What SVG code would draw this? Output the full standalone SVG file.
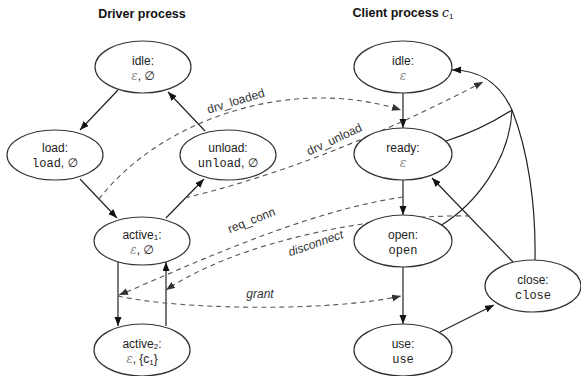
<svg xmlns="http://www.w3.org/2000/svg" width="581" height="376" viewBox="0 0 581 376">
  <style>
    .node ellipse { fill: #fff; stroke: #333; stroke-width: 1.2; }
    text { font-family: "Liberation Sans", "DejaVu Sans", sans-serif; font-size: 12px; fill: #222; }
    .title { font-weight: bold; font-size: 12.5px; fill: #111; }
    .mono { font-family: "Liberation Mono", "DejaVu Sans Mono", monospace; font-size: 12px; }
    .eps { font-family: "DejaVu Serif", serif; font-style: italic; fill: #888; }
    .lbl { font-size: 12px; fill: #333; }
    .it { font-style: italic; }
    .edge { fill: none; stroke: #222; stroke-width: 1.2; marker-end: url(#head); }
    .line { fill: none; stroke: #222; stroke-width: 1.2; }
    .sig { fill: none; stroke: #555; stroke-width: 1.1; stroke-dasharray: 5 4; marker-end: url(#headGray); }
  </style>
  <defs>
    <marker id="head" markerUnits="userSpaceOnUse" markerWidth="10" markerHeight="8" refX="9" refY="3.5" orient="auto">
      <path d="M0,0 L9,3.5 L0,7 z" fill="#111"/>
    </marker>
    <marker id="headGray" markerUnits="userSpaceOnUse" markerWidth="10" markerHeight="8" refX="9" refY="3.5" orient="auto">
      <path d="M0,0 L9,3.5 L0,7 z" fill="#333"/>
    </marker>
  </defs>

  <rect width="581" height="376" fill="#fff"/>

  <!-- column headings -->
  <text class="title" x="142" y="18" text-anchor="middle">Driver process</text>
  <text class="title" x="403" y="17" text-anchor="middle">Client process <tspan font-family="DejaVu Serif, serif" font-style="italic" font-weight="normal">c</tspan><tspan font-weight="normal" font-size="8" dy="2">1</tspan></text>

  <!-- transitions and signals -->
  <g id="connectors">
    <!-- driver transitions -->
    <path class="edge" d="M118,90 L80,130"/>
    <path class="edge" d="M205,131 L168,92"/>
    <path class="edge" d="M80,179 L117,218"/>
    <path class="edge" d="M166,218 L204,179"/>
    <path class="edge" d="M118,262 L118,326"/>
    <path class="edge" d="M166,326 L166,262"/>

    <!-- client transitions -->
    <path class="edge" d="M403,93 L403,128"/>
    <path class="edge" d="M403,180 L403,215"/>
    <path class="edge" d="M403,267 L403,324"/>
    <path class="edge" d="M440,332 L494,305"/>
    <path class="edge" d="M513,262 L432,178"/>
    <!-- merged return to idle -->
    <path class="line" d="M446,141 Q481,130 512,110"/>
    <path class="line" d="M440,226 C475,205 510,160 512,110"/>
    <path class="line" d="M535,260 C536,205 528,150 512,110"/>
    <path class="edge" d="M512,110 Q494,70 452,70"/>

    <!-- signals between processes -->
    <path class="sig" d="M99,199 C160,120 290,75 401,110"/>
    <path class="sig" d="M185,198 C300,170 400,125 483,82"/>
    <path class="sig" d="M403,197 C300,212 180,270 119,295"/>
    <path class="sig" d="M470,216 C380,214 240,240 166,290"/>
    <path class="sig" d="M118,296 C180,310 330,312 401,296"/>

    <text class="lbl" transform="translate(237,105) rotate(-17)" text-anchor="middle">drv_loaded</text>
    <text class="lbl" transform="translate(336,143) rotate(-25)" text-anchor="middle">drv_unload</text>
    <text class="lbl" transform="translate(253,224) rotate(-22)" text-anchor="middle">req_conn</text>
    <text class="lbl it" transform="translate(317,247) rotate(-19)" text-anchor="middle">disconnect</text>
    <text class="lbl it" x="260" y="298" text-anchor="middle">grant</text>
  </g>

  <!-- driver states -->
  <g id="d-idle" class="node">
    <ellipse cx="143" cy="67" rx="48" ry="26"/>
    <text x="143" y="65" text-anchor="middle">idle:</text>
    <text x="143" y="80" text-anchor="middle"><tspan class="eps">ε</tspan>, ∅</text>
  </g>
  <g id="d-load" class="node">
    <ellipse cx="55" cy="155" rx="48" ry="25"/>
    <text x="55" y="152" text-anchor="middle">load:</text>
    <text x="55" y="167" text-anchor="middle"><tspan class="mono">load</tspan>, ∅</text>
  </g>
  <g id="d-unload" class="node">
    <ellipse cx="228" cy="155" rx="48" ry="25"/>
    <text x="228" y="152" text-anchor="middle">unload:</text>
    <text x="228" y="167" text-anchor="middle"><tspan class="mono">unload</tspan>, ∅</text>
  </g>
  <g id="d-active1" class="node">
    <ellipse cx="142" cy="241" rx="48" ry="24"/>
    <text x="142" y="239" text-anchor="middle">active<tspan font-size="8" dy="1">1</tspan><tspan dy="-1">:</tspan></text>
    <text x="142" y="254" text-anchor="middle"><tspan class="eps">ε</tspan>, ∅</text>
  </g>
  <g id="d-active2" class="node">
    <ellipse cx="142" cy="350" rx="48" ry="26"/>
    <text x="142" y="348" text-anchor="middle">active<tspan font-size="8" dy="1">2</tspan><tspan dy="-1">:</tspan></text>
    <text x="142" y="363" text-anchor="middle"><tspan class="eps">ε</tspan>, {c<tspan font-size="8" dy="2">1</tspan><tspan dy="-2">}</tspan></text>
  </g>

  <!-- client states -->
  <g id="c-idle" class="node">
    <ellipse cx="403" cy="67" rx="49" ry="26"/>
    <text x="403" y="65" text-anchor="middle">idle:</text>
    <text x="403" y="80" text-anchor="middle" class="eps">ε</text>
  </g>
  <g id="c-ready" class="node">
    <ellipse cx="403" cy="154" rx="49" ry="26"/>
    <text x="403" y="152" text-anchor="middle">ready:</text>
    <text x="403" y="167" text-anchor="middle" class="eps">ε</text>
  </g>
  <g id="c-open" class="node">
    <ellipse cx="403" cy="241" rx="49" ry="26"/>
    <text x="403" y="239" text-anchor="middle">open:</text>
    <text x="403" y="254" text-anchor="middle" class="mono">open</text>
  </g>
  <g id="c-use" class="node">
    <ellipse cx="403" cy="350" rx="49" ry="26"/>
    <text x="403" y="348" text-anchor="middle">use:</text>
    <text x="403" y="363" text-anchor="middle" class="mono">use</text>
  </g>
  <g id="c-close" class="node">
    <ellipse cx="533" cy="286" rx="48" ry="26"/>
    <text x="533" y="284" text-anchor="middle">close:</text>
    <text x="533" y="299" text-anchor="middle" class="mono">close</text>
  </g>
</svg>
